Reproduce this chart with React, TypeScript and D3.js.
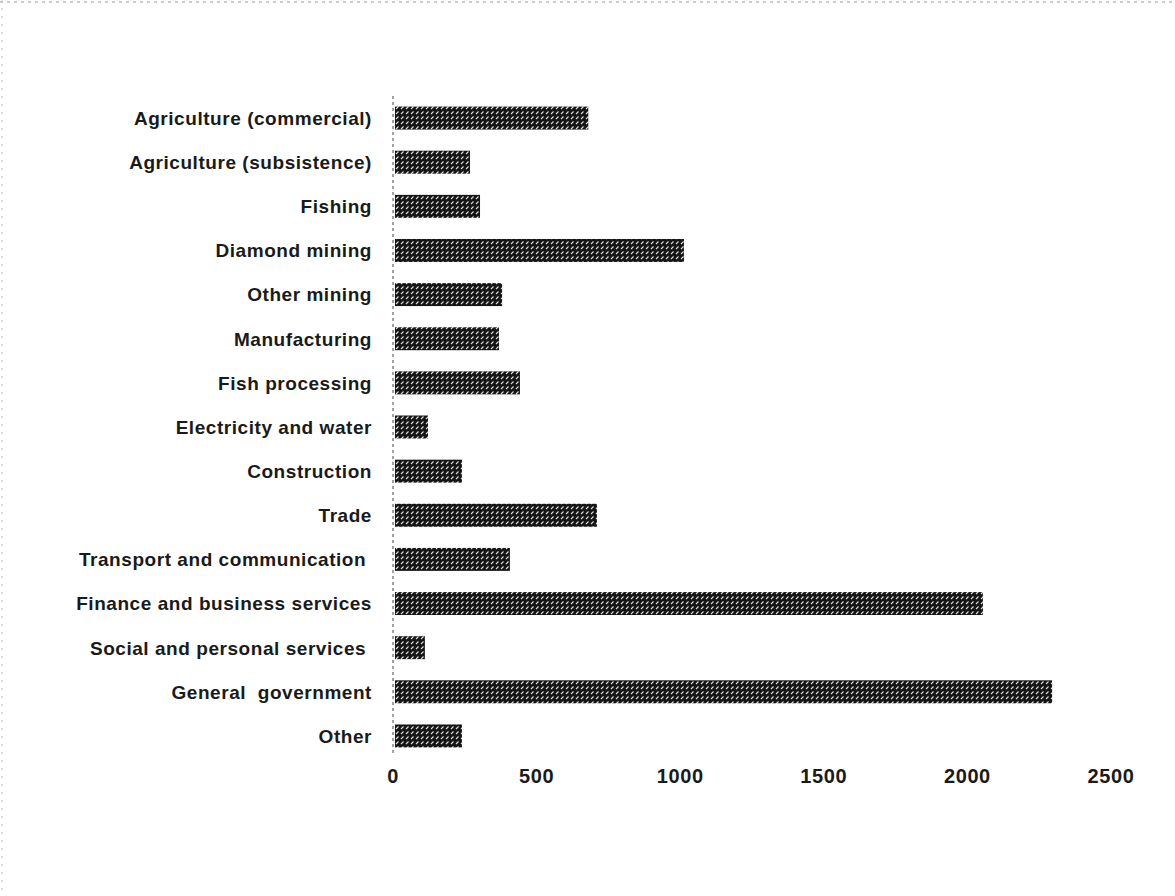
import React from "react";
import * as d3 from "d3";

const categories = [
  "Agriculture (commercial)",
  "Agriculture (subsistence)",
  "Fishing",
  "Diamond mining",
  "Other mining",
  "Manufacturing",
  "Fish processing",
  "Electricity and water",
  "Construction",
  "Trade",
  "Transport and communication ",
  "Finance and business services",
  "Social and personal services ",
  "General  government",
  "Other",
];
const values = [680, 268, 303, 1013, 380, 369, 442, 122, 240, 710, 407, 2054, 111, 2295, 240];
const ticks = [0, 500, 1000, 1500, 2000, 2500];

export default function App() {
  const W = 1175, H = 896;
  const x = d3.scaleLinear().domain([0, 2500]).range([393, 1111]);
  const y = d3.scaleBand().domain(categories).range([96, 758]).paddingInner(0.48).paddingOuter(0.24);
  const font = "'Liberation Sans', Arial, Helvetica, sans-serif";
  return (
    <svg width={W} height={H} style={{ position: "absolute", left: 0, top: 0, background: "#fff" }}>
      <defs>
        <pattern id="hatch" width="5" height="5" patternUnits="userSpaceOnUse">
          <rect width="5" height="5" fill="#151515" />
          <line x1="1" y1="4" x2="3.5" y2="1.5" stroke="#dcdcdc" strokeWidth="1.1" />
        </pattern>
      </defs>
      <line x1={0} x2={W} y1={2} y2={2} stroke="#999" strokeDasharray="3 4" strokeWidth={1} />
      <line x1={2} x2={2} y1={0} y2={H} stroke="#bbb" strokeDasharray="2 6" strokeWidth={1} />
      {categories.map((c, i) => (
        <g key={c}>
          <rect x={x(0) + 2} y={y(c)!} width={x(values[i]) - x(0) - 2} height={y.bandwidth()} fill="url(#hatch)" />
          <text
            x={372}
            y={y(c)! + y.bandwidth() / 2}
            dy="0.36em"
            textAnchor="end"
            fontFamily={font}
            fontSize={19}
            fontWeight="bold"
            letterSpacing={0.55}
            fill="#1a1a1a"
            style={{ whiteSpace: "pre" }}
          >
            {c}
          </text>
        </g>
      ))}
      <line x1={x(0)} x2={x(0)} y1={96} y2={756} stroke="#444" strokeWidth={1} strokeDasharray="3 3" />
      {ticks.map((t) => (
        <text key={t} x={x(t)} y={783} textAnchor="middle" fontFamily={font} fontSize={20} fontWeight="bold" letterSpacing={0.6} fill="#1a1a1a">
          {t}
        </text>
      ))}
    </svg>
  );
}
